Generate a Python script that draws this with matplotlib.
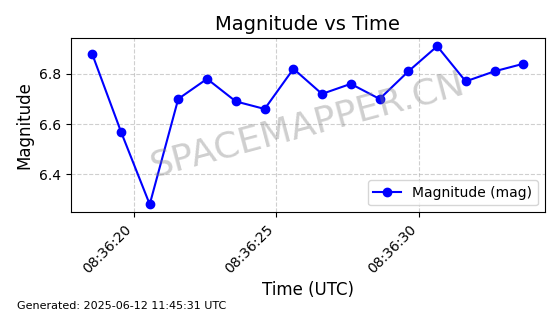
import matplotlib

matplotlib.use("Agg")
import matplotlib.dates as mdates
import matplotlib.pyplot as plt
import pandas as pd

times = [
    "2025-06-12 08:36:18.54",
    "2025-06-12 08:36:19.55",
    "2025-06-12 08:36:20.56",
    "2025-06-12 08:36:21.56",
    "2025-06-12 08:36:22.57",
    "2025-06-12 08:36:23.58",
    "2025-06-12 08:36:24.59",
    "2025-06-12 08:36:25.60",
    "2025-06-12 08:36:26.60",
    "2025-06-12 08:36:27.61",
    "2025-06-12 08:36:28.62",
    "2025-06-12 08:36:29.63",
    "2025-06-12 08:36:30.64",
    "2025-06-12 08:36:31.64",
    "2025-06-12 08:36:32.65",
    "2025-06-12 08:36:33.66",
]
magnitude = [6.88, 6.57, 6.28, 6.70, 6.78, 6.69, 6.66, 6.82,
             6.72, 6.76, 6.70, 6.81, 6.91, 6.77, 6.81, 6.84]
generated = "Generated: 2025-06-12 11:45:31 UTC"

df = pd.DataFrame({"time": pd.to_datetime(times), "mag": magnitude})

fig = plt.figure(figsize=(5.6, 3.14), dpi=100)
ax = fig.add_axes([0.126, 0.324, 0.847, 0.554])

ax.plot(df["time"], df["mag"], "o-", color="blue", markersize=6,
        linewidth=1.5, label="Magnitude (mag)")
ax.grid(True, linestyle="--", alpha=0.6)

ax.xaxis.set_major_locator(mdates.SecondLocator(bysecond=range(0, 60, 5)))
ax.xaxis.set_major_formatter(mdates.DateFormatter("%H:%M:%S"))
plt.setp(ax.get_xticklabels(), rotation=45, ha="right")

ax.set_title("Magnitude vs Time", fontsize=14)
ax.set_xlabel("Time (UTC)", fontsize=12)
ax.set_ylabel("Magnitude", fontsize=12)
ax.legend(loc="lower right")

# watermark
ax.text(0.5, 0.5, "SPACEMAPPER.CN", transform=ax.transAxes, fontsize=26,
        color="gray", alpha=0.38, rotation=15, ha="center", va="center")

fig.text(0.03, 0.015, generated, fontsize=8)

fig.savefig("out.png", dpi=100)
